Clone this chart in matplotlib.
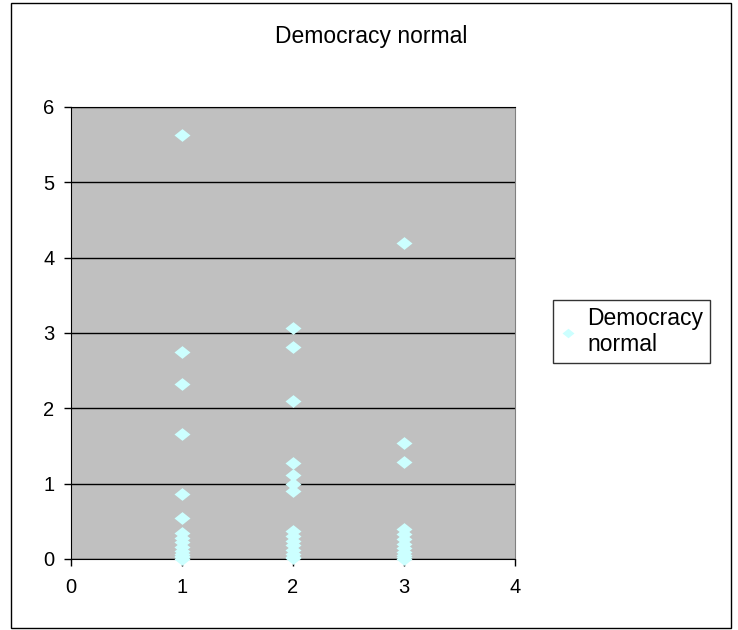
import numpy as np
import matplotlib.pyplot as plt
from matplotlib.patches import Rectangle

plt.rcParams['font.family'] = ['Liberation Sans', 'DejaVu Sans']

# values per group
group_ids = [1, 2, 3]
group_1 = [5.63, 2.75, 2.32, 1.66, 0.86, 0.55, 0.34, 0.28, 0.22, 0.16, 0.11, 0.07, 0.04, 0.02, 0.0]
group_2 = [3.06, 2.82, 2.10, 1.28, 1.12, 1.0, 0.9, 0.37, 0.30, 0.24, 0.18, 0.12, 0.07, 0.03, 0.01]
group_3 = [4.19, 1.54, 1.29, 0.40, 0.33, 0.26, 0.20, 0.14, 0.09, 0.05, 0.02, 0.0]
series_name = "Democracy\nnormal"
title = "Democracy normal"
y_ticks = [0, 1, 2, 3, 4, 5, 6]
x_ticks = [0, 1, 2, 3, 4]

W, H = 738, 630
fig = plt.figure(figsize=(W / 100, H / 100), dpi=100)
ax = fig.add_axes([71 / W, 1 - 559 / H, 444 / W, 452 / H])
ax.set_facecolor('#C0C0C0')

xs = np.concatenate([np.full(len(g), gid) for gid, g in zip(group_ids, [group_1, group_2, group_3])])
ys = np.concatenate([group_1, group_2, group_3])

diamond = [(-1, 0), (0, 0.8), (1, 0), (0, -0.8), (-1, 0)]
ax.plot(xs, ys, ls='none', marker=diamond, ms=11.5, mfc='#CCFFFF', mec='none',
        label=series_name, clip_on=False, zorder=3)

ax.set_xlim(0, 4)
ax.set_ylim(0, 6)
ax.set_xticks(x_ticks)
ax.set_yticks(y_ticks)
ax.tick_params(labelsize=14.5, length=5, width=1, color='black', direction='out')
ax.tick_params(axis='y', pad=7)
ax.tick_params(axis='x', pad=9)
ax.yaxis.grid(True, color='black', lw=1)
ax.set_axisbelow(True)
for s in ['left', 'bottom', 'top']:
    ax.spines[s].set_color('black')
ax.spines['right'].set_color('#808080')

fig.text(371 / W, 1 - 37 / H, title, ha='center', va='center', fontsize=16.5)

leg = fig.legend(loc='upper left', bbox_to_anchor=(553 / W, 1 - 300 / H), fontsize=16.5,
                 frameon=True, fancybox=False, handlelength=0.75, handletextpad=0.45,
                 borderpad=0.3, borderaxespad=0, markerscale=0.75)
leg.get_frame().set_edgecolor('black')
leg.get_frame().set_linewidth(1)

fig.patches.append(Rectangle((11 / W, 1 - 628 / H), 720 / W, 625 / H, transform=fig.transFigure,
                             fill=False, edgecolor='black', lw=1))

fig.savefig('out.png', dpi=100)
